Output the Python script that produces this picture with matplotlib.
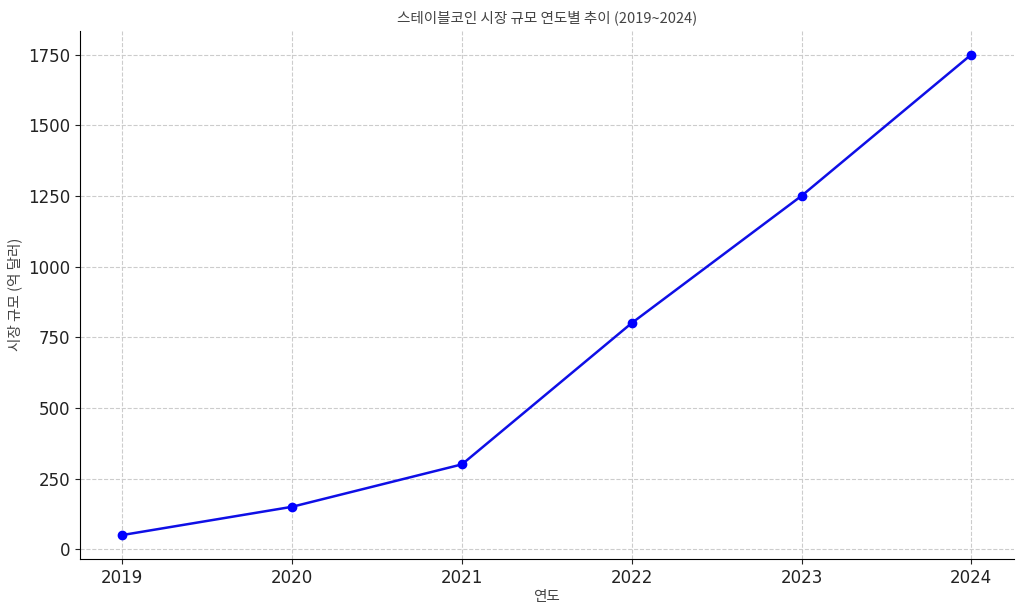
import matplotlib.pyplot as plt

plt.rcParams['font.family'] = ['Noto Sans CJK KR', 'DejaVu Sans']

years = [2019, 2020, 2021, 2022, 2023, 2024]
market_size = [50, 150, 300, 800, 1250, 1750]
y_ticks = [0, 250, 500, 750, 1000, 1250, 1500, 1750]

fig, ax = plt.subplots(figsize=(10.24, 6.11), dpi=100)
fig.subplots_adjust(left=0.078, right=0.99, top=0.95, bottom=0.085)

ax.plot(years, market_size, color='#0f0fe6', marker='o', markersize=6,
        markerfacecolor='blue', markeredgecolor='blue', linewidth=1.8)

ax.set_title('스테이블코인 시장 규모 연도별 추이 (2019~2024)', fontsize=10.5, color='#444444')
ax.set_xlabel('연도', fontsize=10.5, color='#444444', labelpad=2)
ax.set_ylabel('시장 규모 (억 달러)', fontsize=10.5, color='#444444')
ax.set_xticks(years)
ax.set_yticks(y_ticks)
ax.tick_params(labelsize=12, colors='#222222')
for lbl in ax.get_xticklabels() + ax.get_yticklabels():
    lbl.set_fontfamily('DejaVu Sans')
ax.set_ylim(-35, 1835)
ax.set_xlim(2018.75, 2024.25)
ax.grid(True, linestyle='--', color='#cccccc', linewidth=0.8)
ax.spines['top'].set_visible(False)
ax.spines['right'].set_visible(False)

fig.savefig('out.png', dpi=100)
